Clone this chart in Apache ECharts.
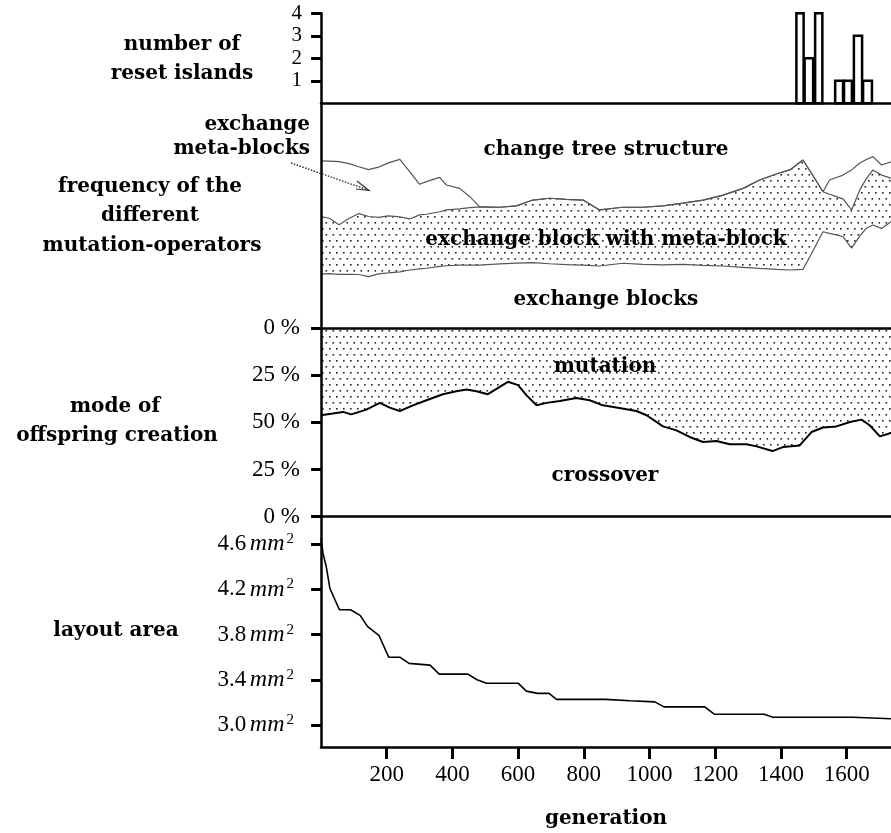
<!DOCTYPE html>
<html>
<head>
<meta charset="utf-8">
<script src="https://cdn.jsdelivr.net/npm/echarts@6/dist/echarts.min.js"></script>
<style>
html,body{margin:0;padding:0;background:#fff;}
#c{width:891px;height:833px;}
</style>
</head>
<body>
<div id="c"></div>
<script>
// ---------- data ----------
// reset islands histogram (generation bin start / end, count)
const barStart = [1444, 1469, 1501, 1562, 1589, 1619, 1647];
const barEnd   = [1469, 1498, 1526, 1589, 1616, 1647, 1677];
const barCount = [4, 2, 4, 1, 1, 3, 1];
const islandTicks = [1, 2, 3, 4];

// mutation operators: cumulative boundaries in % (bottom -> top)
const opsGen = [0,25,55,85,115,145,175,205,240,270,300,321,361,382,422,453,483,544,595,645,696,747,798,848,919,980,1041,1102,1163,1224,1285,1335,1386,1427,1467,1488,1528,1548,1569,1589,1615,1640,1660,1680,1706,1735];
const bndExchangeBlocks = [24.1,24.3,24.0,24.0,23.9,23.0,24.2,24.6,25.1,25.9,26.4,26.7,27.5,27.8,28.1,28.1,28.1,28.6,29.0,29.2,28.7,28.3,28.1,27.7,28.9,28.4,28.2,28.4,28.0,27.7,27.1,26.6,26.2,25.9,26.2,31.8,42.9,42.2,41.5,40.7,35.6,41.0,44.5,45.9,44.4,47.4];
const bndBlockWithMeta = [49.6,48.9,46.0,48.8,51.0,49.7,49.3,50.0,49.5,48.6,50.4,50.7,51.8,52.6,53.1,53.6,54.0,53.8,54.4,57.0,57.8,57.3,57.0,52.6,53.8,53.8,54.4,55.6,57.0,59.2,62.2,65.9,68.6,70.4,74.8,70.0,60.7,59.6,58.5,57.5,52.6,61.5,66.5,70.4,68.1,66.7];
const bndMetaBlocks = [74.4,74.3,74.1,73.2,71.8,70.5,71.6,73.5,75.1,69.6,64.0,65.2,67.1,63.7,62.2,58.5,54.0,53.8,54.4,57.0,57.8,57.3,57.0,52.6,53.8,53.8,54.4,55.6,57.0,59.2,62.2,65.9,68.6,70.4,74.8,70.0,60.7,65.9,67.0,68.1,70.4,73.5,75.0,76.3,72.6,74.0];

// mode of offspring creation: mutation share in %
const modeGen = [0,36,67,92,138,179,209,240,280,321,371,412,443,473,508,544,569,600,625,656,686,727,777,818,858,899,960,991,1041,1082,1122,1163,1204,1244,1295,1326,1374,1406,1457,1493,1528,1569,1610,1645,1670,1701,1735];
const mutationShare = [46.2,45.3,44.4,45.7,43.2,39.6,42.1,43.9,40.9,38.2,35.0,33.4,32.5,33.4,35.0,31.1,28.4,30.2,35.5,40.9,39.6,38.6,37.0,38.2,40.9,42.1,43.9,46.2,52.1,54.2,57.7,60.4,59.9,61.6,61.6,62.7,65.2,63.1,62.2,55.1,52.7,52.1,49.8,48.5,51.5,57.4,55.6];
const modeTicks = [0, 25, 50, 75, 100];

// layout area in mm^2
const layoutGen = [0,6,16,27,39,56,90,119,142,177,206,240,268,332,360,447,475,504,600,625,659,694,717,866,872,941,947,1016,1044,1168,1198,1349,1376,1619,1625,1735];
const layoutArea = [4.65,4.52,4.40,4.21,4.13,4.02,4.02,3.97,3.87,3.79,3.60,3.60,3.545,3.53,3.45,3.45,3.40,3.37,3.37,3.30,3.28,3.28,3.227,3.227,3.215,3.215,3.205,3.205,3.16,3.16,3.095,3.095,3.068,3.068,3.056,3.056];
const areaTicks = [3.0, 3.4, 3.8, 4.2, 4.6];

const genTicks = [200, 400, 600, 800, 1000, 1200, 1400, 1600];
const genMax = 1735;

// ---------- styling helpers ----------
function dotPattern(){
  const cv = document.createElement('canvas');
  cv.width = 7; cv.height = 12;
  const g = cv.getContext('2d');
  g.fillStyle = '#fff'; g.fillRect(0,0,7,12);
  g.fillStyle = '#222';
  g.fillRect(0,0,1.6,1.6);
  g.fillRect(3.5,6,1.6,1.6);
  return {image: cv, repeat: 'repeat'};
}
const dots = dotPattern();
const SERIF = '"Liberation Serif", "DejaVu Serif", serif';
const BOLD = '"DejaVu Serif", serif';
const L = 321, W = 891 - 321;

const grids = [
  {left:L, width:W, top:13.3, height:90},
  {left:L, width:W, top:103.3, height:225},
  {left:L, width:W, top:328.3, height:188.3},
  {left:L, width:W, top:516.6, height:230.4}
].map(g => Object.assign(g, {outerBoundsMode:'none', containLabel:false}));

function hiddenX(i){
  return {type:'value', gridIndex:i, min:0, max:genMax, z:10,
    axisLine:{show:true, onZero:false, lineStyle:{color:'#000', width:2.5}},
    axisTick:{show:false}, axisLabel:{show:false}, splitLine:{show:false}};
}

const opsLine = (name, arr, area) => ({
  type:'line', name:name, xAxisIndex:1, yAxisIndex:1, symbol:'none',
  lineStyle:{color:'#555', width:1.2},
  areaStyle: area ? {origin:'start', color:area, opacity:1} : undefined,
  data: opsGen.map((g,i) => [g, arr[i]])
});

const option = {
  animation:false,
  backgroundColor:'#fff',
  grid: grids,
  xAxis: [
    hiddenX(0), hiddenX(1), hiddenX(2),
    {type:'value', gridIndex:3, min:0, max:genMax, z:10,
     axisLine:{show:true, onZero:false, lineStyle:{color:'#000', width:2.5}},
     axisTick:{show:true, customValues:genTicks, length:12, lineStyle:{color:'#000', width:3}},
     axisLabel:{show:true, customValues:genTicks, margin:16, color:'#000', fontFamily:SERIF, fontSize:23,
       formatter: v => String(v)},
     splitLine:{show:false},
     name:'generation', nameLocation:'middle', nameGap:62,
     nameTextStyle:{fontFamily:BOLD, fontWeight:'bold', fontSize:20, color:'#000'}}
  ],
  yAxis: [
    {type:'value', gridIndex:0, min:0, max:4, z:10,
     axisLine:{show:true, onZero:false, lineStyle:{color:'#000', width:2.5}},
     axisTick:{show:true, customValues:islandTicks, length:10, lineStyle:{color:'#000', width:3}},
     axisLabel:{show:true, customValues:islandTicks, margin:19, color:'#000', fontFamily:SERIF, fontSize:21},
     splitLine:{show:false}},
    {type:'value', gridIndex:1, min:0, max:100, z:10,
     axisLine:{show:true, onZero:false, lineStyle:{color:'#000', width:2.5}},
     axisTick:{show:false}, axisLabel:{show:false}, splitLine:{show:false}},
    {type:'value', gridIndex:2, min:0, max:100, inverse:true, z:10,
     axisLine:{show:true, onZero:false, lineStyle:{color:'#000', width:2.5}},
     axisTick:{show:true, customValues:modeTicks, length:10, lineStyle:{color:'#000', width:3}},
     axisLabel:{show:true, customValues:modeTicks, margin:21, color:'#000', fontFamily:SERIF, fontSize:23,
       formatter: v => (v <= 50 ? v : 100 - v) + ' %'},
     splitLine:{show:false}},
    {type:'value', gridIndex:3, min:2.8055, max:4.8435, z:10,
     axisLine:{show:true, onZero:false, lineStyle:{color:'#000', width:2.5}},
     axisTick:{show:true, customValues:areaTicks, length:10, lineStyle:{color:'#000', width:3}},
     axisLabel:{show:true, customValues:areaTicks, margin:27, color:'#000',
       formatter: v => '{n|' + v.toFixed(1) + '}{g| }{i|mm}{s|2}',
       rich:{
         n:{fontFamily:SERIF, fontSize:23, color:'#000'},
         g:{fontFamily:SERIF, fontSize:14, color:'#000'},
         i:{fontFamily:SERIF, fontStyle:'italic', fontSize:24, color:'#000'},
         s:{fontFamily:SERIF, fontSize:15, color:'#000', verticalAlign:'top', padding:[0,0,10,2]}
       }},
     splitLine:{show:false}}
  ],
  series: [
    {type:'custom', xAxisIndex:0, yAxisIndex:0, z:3,
     data: barStart.map((s,i) => [s, barEnd[i], barCount[i]]),
     encode:{x:[0,1], y:2},
     renderItem: function(params, api){
       const p0 = api.coord([api.value(0), 0]);
       const p1 = api.coord([api.value(1), api.value(2)]);
       return {type:'rect', shape:{x:p0[0]+1, y:p1[1], width:p1[0]-p0[0]-1, height:p0[1]-p1[1]},
         style:{fill:'#fff', stroke:'#000', lineWidth:2.5}};
     }},
    opsLine('exchange block with meta-block', bndBlockWithMeta, dots),
    opsLine('exchange blocks', bndExchangeBlocks, '#fff'),
    opsLine('exchange meta-blocks', bndMetaBlocks, null),
    {type:'line', name:'mutation', xAxisIndex:2, yAxisIndex:2, symbol:'none',
     lineStyle:{color:'#000', width:2}, areaStyle:{origin:'start', color:dots, opacity:1},
     data: modeGen.map((g,i) => [g, mutationShare[i]])},
    {type:'line', name:'layout area', xAxisIndex:3, yAxisIndex:3, symbol:'none',
     lineStyle:{color:'#000', width:1.6},
     data: layoutGen.map((g,i) => [g, layoutArea[i]])}
  ],
  graphic: [
    ...[
      ['number of', 182, 45, 'center'], ['reset islands', 182, 74, 'center'],
      ['exchange', 310, 125, 'right'], ['meta-blocks', 310, 149, 'right'],
      ['frequency of the', 150, 187, 'center'], ['different', 150, 216, 'center'],
      ['mutation-operators', 152, 246, 'center'],
      ['mode of', 115, 407, 'center'], ['offspring creation', 117, 436, 'center'],
      ['layout area', 116, 631, 'center'],
      ['change tree structure', 606, 150, 'center'],
      ['exchange block with meta-block', 606, 240, 'center'],
      ['exchange blocks', 606, 300, 'center'],
      ['mutation', 605, 367, 'center'],
      ['crossover', 605, 476, 'center']
    ].map(t => ({type:'text', x:t[1], y:t[2], z:100,
      style:{text:t[0], fill:'#000', font:'bold 20px ' + BOLD, textAlign:t[3], textVerticalAlign:'middle'}})),
    {type:'line', z:100, shape:{x1:291, y1:163, x2:368, y2:190},
     style:{stroke:'#333', lineWidth:1.5, lineDash:[1.5,1.5]}},
    {type:'polyline', z:100, shape:{points:[[357,181],[369,190.5],[356,189]]},
     style:{stroke:'#333', lineWidth:1.2, fill:null}}
  ]
};

const chart = echarts.init(document.getElementById('c'), null, {renderer:'canvas'});
chart.setOption(option);
</script>
</body>
</html>
